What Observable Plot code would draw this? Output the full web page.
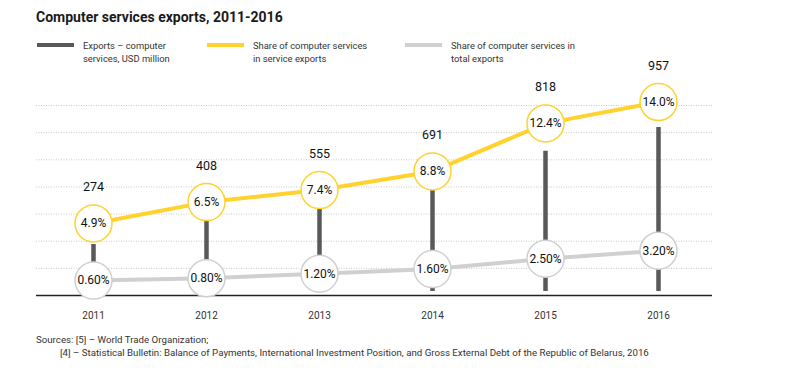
<!DOCTYPE html>
<html>
<head>
<meta charset="utf-8">
<script src="https://cdn.jsdelivr.net/npm/d3@7"></script>
<script src="https://cdn.jsdelivr.net/npm/@observablehq/plot@0.6"></script>
<style>
  body { margin: 0; background: #fff; font-family: Roboto, "Noto Sans", sans-serif; color: #222; }
  #header { position: relative; height: 55px; width: 800px; }
  .title { position: absolute; left: 36px; top: 9px; font-weight: bold; font-size: 14px; line-height: 16px; color: #1a1a1a; white-space: nowrap; }
  .sw { position: absolute; top: 43px; height: 4px; width: 37px; }
  .lt { position: absolute; top: 40px; font-size: 9.4px; line-height: 12.5px; color: #333; white-space: nowrap; }
  #chart svg { background: transparent !important; display: block; }
  #caption { font-size: 9.7px; line-height: 13px; color: #333; padding-top: 3px; }
  #caption div { white-space: nowrap; }
</style>
</head>
<body>
<div id="header">
  <div class="title">Computer services exports, 2011-2016</div>
  <div class="sw" style="left:37px;background:#58595b"></div>
  <div class="lt" style="left:83px">Exports – computer<br>services, USD million</div>
  <div class="sw" style="left:207px;background:#ffd22e"></div>
  <div class="lt" style="left:253px">Share of computer services<br>in service exports</div>
  <div class="sw" style="left:405px;background:#d0d0d0"></div>
  <div class="lt" style="left:451px">Share of computer services in<br>total exports</div>
</div>
<div id="chart"></div>
<div id="caption">
  <div style="padding-left:36px">Sources: [5] – World Trade Organization;</div>
  <div style="padding-left:60px">[4] – Statistical Bulletin: Balance of Payments, International Investment Position, and Gross External Debt of the Republic of Belarus, 2016</div>
</div>
<script>
const years = ["2011", "2012", "2013", "2014", "2015", "2016"];
const exportsUSD = [274, 408, 555, 691, 818, 957];
const shareService = [4.9, 6.5, 7.4, 8.8, 12.4, 14.0];
const shareTotal = [0.60, 0.80, 1.20, 1.60, 2.50, 3.20];

const data = years.map((year, i) => ({
  year,
  usd: exportsUSD[i],
  service: shareService[i],
  total: shareTotal[i]
}));

// secondary mappings of the two share series onto the common (USD) axis
const yService = d3.scaleLinear().domain([0, 14]).range([15.75, 1105]);
const yTotal = d3.scaleLinear().domain([0, 3.2]).range([23.3, 238]);

const baseValue = -23.3;
const gridValues = [1, 2, 3, 4, 5, 6, 7].map(k => baseValue + 158.3 * k);

const yellow = "#ffd22e";
const lightGray = "#d0d0d0";
const darkGray = "#58595b";

const chart = Plot.plot({
  width: 800,
  height: 275,
  marginTop: 15,
  marginBottom: 35,
  marginLeft: 36,
  marginRight: 88,
  style: { fontFamily: "Roboto, 'Noto Sans', sans-serif", background: "transparent", overflow: "visible" },
  x: { type: "point", domain: years, range: [93, 658], padding: 0 },
  y: { domain: [baseValue, 1289], axis: null },
  marks: [
    Plot.ruleY(gridValues, { stroke: "#c8c8c8", strokeDasharray: "1,1.5", strokeWidth: 1 }),
    Plot.ruleY([baseValue], { stroke: "#222", strokeWidth: 1.3 }),
    Plot.axisX({ tickSize: 0, tickPadding: 16, fontSize: 10, color: "#333", label: null }),
    Plot.ruleX(data, { x: "year", y1: 0, y2: "usd", stroke: darkGray, strokeWidth: 4.5 }),
    Plot.line(data, { x: "year", y: d => yTotal(d.total), stroke: lightGray, strokeWidth: 4 }),
    Plot.line(data, { x: "year", y: d => yService(d.service), stroke: yellow, strokeWidth: 4 }),
    Plot.dot(data, { x: "year", y: d => yTotal(d.total), r: 18.5, fill: "white", stroke: lightGray, strokeWidth: 1.5 }),
    Plot.dot(data, { x: "year", y: d => yService(d.service), r: 18.5, fill: "white", stroke: yellow, strokeWidth: 1.5 }),
    Plot.text(data, { x: "year", y: d => yTotal(d.total), text: d => d.total.toFixed(2) + "%", fontSize: 12, fill: "#111" }),
    Plot.text(data, { x: "year", y: d => yService(d.service), text: d => d.service.toFixed(1) + "%", fontSize: 12, fill: "#111" }),
    Plot.text(data, { x: "year", y: d => yService(d.service), dy: -36, text: d => String(d.usd), fontSize: 12.5, fill: "#111" })
  ]
});
document.getElementById("chart").appendChild(chart);
</script>
</body>
</html>
